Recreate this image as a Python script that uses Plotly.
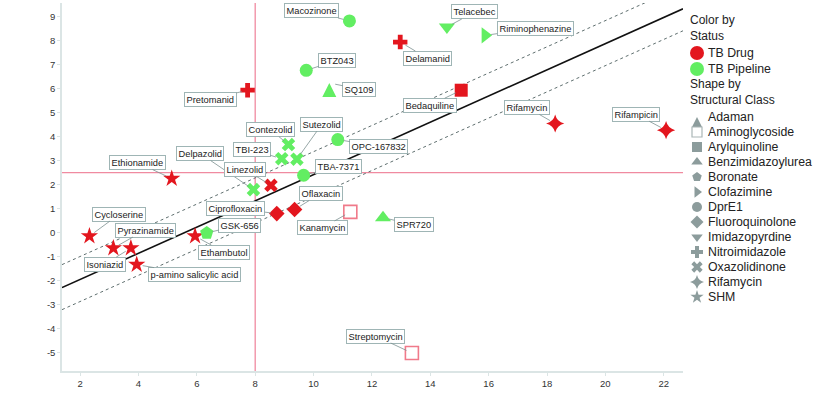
import plotly.graph_objects as go

# ---------------- data ----------------
names = ["Cycloserine", "Pyrazinamide", "Isoniazid", "p-amino salicylic acid", "Ethambutol",
         "GSK-656", "Ethionamide", "Pretomanid", "Delpazolid", "Linezolid",
         "TBI-223", "Contezolid", "Sutezolid", "TBA-7371", "OPC-167832",
         "BTZ043", "SQ109", "Macozinone", "Delamanid", "Telacebec",
         "Riminophenazine", "Bedaquiline", "Rifamycin", "Rifampicin", "Oflaxacin",
         "Ciprofloxacin", "Kanamycin", "SPR720", "Streptomycin"]
cmr = [2.32, 3.14, 3.74, 3.94, 5.94,
       6.34, 5.14, 7.74, 7.94, 8.54,
       8.91, 9.14, 9.43, 9.66, 10.83,
       9.75, 10.54, 11.23, 12.97, 14.57,
       15.88, 15.06, 18.28, 22.08, 9.35,
       8.74, 11.26, 12.38, 13.37]
chrom_logd = [-0.15, -0.65, -0.65, -1.34, -0.15,
              -0.02, 2.25, 5.94, 1.79, 1.97,
              3.08, 3.67, 3.06, 2.39, 3.88,
              6.77, 6.24, 8.83, 7.95, 8.58,
              8.23, 5.94, 4.55, 4.27, 0.96,
              0.79, 0.86, 0.62, -5.03]
status = ["TB Drug", "TB Drug", "TB Drug", "TB Drug", "TB Drug",
          "TB Pipeline", "TB Drug", "TB Drug", "TB Pipeline", "TB Drug",
          "TB Pipeline", "TB Pipeline", "TB Pipeline", "TB Pipeline", "TB Pipeline",
          "TB Pipeline", "TB Pipeline", "TB Pipeline", "TB Drug", "TB Pipeline",
          "TB Pipeline", "TB Drug", "TB Drug", "TB Drug", "TB Drug",
          "TB Drug", "TB Drug", "TB Pipeline", "TB Drug"]
struct_class = ["SHM", "SHM", "SHM", "SHM", "SHM",
                "Boronate", "SHM", "Nitroimidazole", "Oxazolidinone", "Oxazolidinone",
                "Oxazolidinone", "Oxazolidinone", "Oxazolidinone", "DprE1", "DprE1",
                "DprE1", "Adaman", "DprE1", "Nitroimidazole", "Imidazopyrdine",
                "Clofazimine", "Arylquinoline", "Rifamycin", "Rifamycin", "Fluoroquinolone",
                "Fluoroquinolone", "Aminoglycoside", "Benzimidazoylurea", "Aminoglycoside"]

status_list = ["TB Drug", "TB Pipeline"]
class_list = ["Adaman", "Aminoglycoside", "Arylquinoline", "Benzimidazoylurea", "Boronate",
              "Clofazimine", "DprE1", "Fluoroquinolone", "Imidazopyrdine", "Nitroimidazole",
              "Oxazolidinone", "Rifamycin", "SHM"]

# regression line and +/- band (end points)
fit_cmr = [1.38, 22.66]
fit_logd = [-2.30, 9.34]
band_upper = [-1.34, 10.30]
band_lower = [-3.22, 8.42]
ref_cmr = 8
ref_logd = 2.5

x_ticks = [2, 4, 6, 8, 10, 12, 14, 16, 18, 20, 22]
y_ticks = [-5, -4, -3, -2, -1, 0, 1, 2, 3, 4, 5, 6, 7, 8, 9]

# ---------------- styles ----------------
status_color = {"TB Drug": "#e3161e", "TB Pipeline": "#62ee62"}
symbol = {"Adaman": "arrow-up", "Aminoglycoside": "square-open", "Arylquinoline": "square",
          "Benzimidazoylurea": "triangle-up", "Boronate": "pentagon", "Clofazimine": "triangle-right",
          "DprE1": "circle", "Fluoroquinolone": "diamond", "Imidazopyrdine": "triangle-down",
          "Nitroimidazole": "cross", "Oxazolidinone": "x", "Rifamycin": "star-diamond", "SHM": "star"}
msize = {"Adaman": 14, "Aminoglycoside": 13, "Arylquinoline": 13, "Benzimidazoylurea": 14,
         "Boronate": 14, "Clofazimine": 14, "DprE1": 13, "Fluoroquinolone": 12,
         "Imidazopyrdine": 14, "Nitroimidazole": 12, "Oxazolidinone": 12, "Rifamycin": 13, "SHM": 13}
label_offset = {
    "Cycloserine": (30, -22), "Pyrazinamide": (32, -18), "Isoniazid": (-26, 16),
    "p-amino salicylic acid": (58, 10), "Ethambutol": (29, 16), "GSK-656": (33, -8),
    "Ethionamide": (-34, -16), "Pretomanid": (-37, 9), "Delpazolid": (-53, -36),
    "Linezolid": (-26, -16), "TBI-223": (-30, -9), "Contezolid": (-18, -15),
    "Sutezolid": (25, -35), "TBA-7371": (35, -9), "OPC-167832": (41, 7),
    "BTZ043": (31, -10), "SQ109": (30, 6), "Macozinone": (-38, -10),
    "Delamanid": (27, 16), "Telacebec": (28, -15), "Riminophenazine": (50, -7),
    "Bedaquiline": (-31, 15), "Rifamycin": (-28, -16), "Rifampicin": (-30, -16),
    "Oflaxacin": (26, -16), "Ciprofloxacin": (-41, -5), "Kanamycin": (-28, 16),
    "SPR720": (31, 7), "Streptomycin": (-36, -17),
}

FONT = "Liberation Sans, Arial, sans-serif"
W, H = 817, 400
ML, MT, MB = 62, 3, 29
PLOT_RIGHT = 683
dom_main = (PLOT_RIGHT - ML) / (W - ML)
LEG_GREY = "#8c9c9c"

fig = go.Figure()

# reference lines
fig.add_vline(x=ref_cmr, line=dict(color="#f08aa0", width=1.3), layer="below")
fig.add_hline(y=ref_logd, line=dict(color="#f08aa0", width=1.3), layer="below")

# regression + band
fig.add_trace(go.Scatter(x=fit_cmr, y=band_upper, mode="lines",
                         line=dict(color="#5f6f6f", width=1, dash="dot"), showlegend=False, hoverinfo="skip"))
fig.add_trace(go.Scatter(x=fit_cmr, y=band_lower, mode="lines",
                         line=dict(color="#5f6f6f", width=1, dash="dot"), showlegend=False, hoverinfo="skip"))
fig.add_trace(go.Scatter(x=fit_cmr, y=fit_logd, mode="lines",
                         line=dict(color="#111111", width=1.6), showlegend=False, hoverinfo="skip"))

# points grouped by status and class
for st in status_list:
    for cl in class_list:
        idx = [i for i in range(len(names)) if status[i] == st and struct_class[i] == cl]
        if not idx:
            continue
        col = status_color[st]
        open_sym = symbol[cl].endswith("-open")
        fig.add_trace(go.Scatter(
            x=[cmr[i] for i in idx], y=[chrom_logd[i] for i in idx],
            text=[names[i] for i in idx], mode="markers",
            marker=dict(symbol=symbol[cl], size=msize[cl],
                        color="#f07a8a" if open_sym else col,
                        line=dict(width=1.6 if open_sym else 0, color="#f07a8a" if open_sym else col)),
            showlegend=False, hovertemplate="%{text}<extra></extra>"))

# labels with leader lines
for i, nm in enumerate(names):
    ax, ay = label_offset[nm]
    fig.add_annotation(x=cmr[i], y=chrom_logd[i], xref="x", yref="y", text=nm,
                       showarrow=True, arrowhead=0, arrowwidth=0.8, arrowcolor="#7c9090",
                       standoff=6, ax=ax, ay=ay,
                       bgcolor="white", bordercolor="#9fb5b5", borderwidth=1, borderpad=1.5,
                       font=dict(family=FONT, size=9.3, color="#222222"))

# ---------------- manual legend on a pixel-coordinate overlay axis ----------------
leg_marker_x = 697
leg_text_x = 706
status_rows_y = [53, 69]
class_row0, class_step = 117, 15
fig.add_trace(go.Scatter(x=[leg_marker_x] * len(status_list), y=status_rows_y, xaxis="x2", yaxis="y2",
                         mode="markers", marker=dict(symbol="circle", size=14,
                                                     color=[status_color[s] for s in status_list]),
                         showlegend=False, hoverinfo="skip"))
class_y = [class_row0 + k * class_step for k in range(len(class_list))]
fig.add_trace(go.Scatter(x=[leg_marker_x] * len(class_list), y=class_y, xaxis="x2", yaxis="y2",
                         mode="markers",
                         marker=dict(symbol=[symbol[c] for c in class_list], size=10,
                                     color=["#aab6b6" if symbol[c].endswith("-open") else LEG_GREY for c in class_list],
                                     line=dict(width=[1.2 if symbol[c].endswith("-open") else 0 for c in class_list],
                                               color="#aab6b6")),
                         showlegend=False, hoverinfo="skip"))
for s, yy in zip(status_list, status_rows_y):
    fig.add_annotation(x=leg_text_x, y=yy, xref="x2", yref="y2", text=s, showarrow=False,
                       xanchor="left", yanchor="middle", font=dict(family=FONT, size=12.3, color="#222"))
for c, yy in zip(class_list, class_y):
    fig.add_annotation(x=leg_text_x, y=yy, xref="x2", yref="y2", text=c, showarrow=False,
                       xanchor="left", yanchor="middle", font=dict(family=FONT, size=12.3, color="#222"))
for txt, yy in [("Color by<br>Status", 28), ("Shape by<br>Structural Class", 92)]:
    fig.add_annotation(x=689, y=yy, xref="x2", yref="y2", text=txt, showarrow=False, align="left",
                       xanchor="left", yanchor="middle", borderpad=0,
                       font=dict(family=FONT, size=12, color="#222"))

# axis titles
fig.add_annotation(x=347, y=391, xref="x2", yref="y2", text="cmr", showarrow=False,
                   font=dict(family=FONT, size=9.5, color="#333"))
fig.add_annotation(x=8, y=187, xref="x2", yref="y2", text="Chrom logD", showarrow=False, textangle=-90,
                   font=dict(family=FONT, size=9.5, color="#333"))

axis_line = "#dbe5e5"
fig.update_layout(
    width=W, height=H, margin=dict(l=ML, r=0, t=MT, b=MB),
    paper_bgcolor="white", plot_bgcolor="white", showlegend=False,
    font=dict(family=FONT),
    xaxis=dict(domain=[0, dom_main], range=[1.38, 22.66], tickvals=x_ticks,
               ticktext=[str(v) for v in x_ticks], showgrid=False, zeroline=False,
               showline=True, linecolor=axis_line, linewidth=1.5, ticks="outside", ticklen=3,
               tickcolor=axis_line, tickfont=dict(family=FONT, size=9.5, color="#333")),
    yaxis=dict(range=[-5.78, 9.58], tickvals=y_ticks, ticktext=[str(v) for v in y_ticks],
               showgrid=False, zeroline=False, showline=True, linecolor=axis_line, linewidth=1.5,
               ticks="outside", ticklen=3, tickcolor=axis_line,
               tickfont=dict(family=FONT, size=9.5, color="#333")),
    xaxis2=dict(domain=[dom_main, 1], range=[PLOT_RIGHT, W], visible=False, anchor="y2"),
    yaxis2=dict(domain=[0, 1], range=[H - MB, MT], visible=False, anchor="x2"),
)

fig.write_html("out.html", config={"displayModeBar": False},
               post_script="document.body.style.margin='0';")
